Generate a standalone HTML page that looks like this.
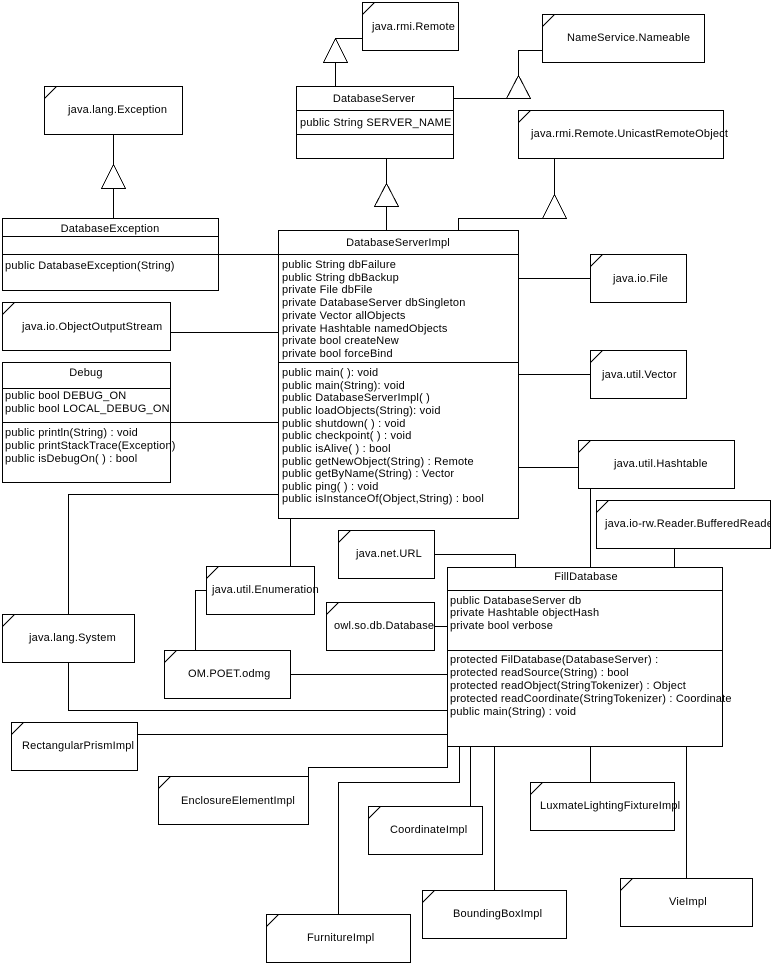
<!DOCTYPE html>
<html><head><meta charset="utf-8"><style>
html,body{margin:0;padding:0;background:#fff;}
svg{display:block;}
text{font-family:"Liberation Sans",Arial,sans-serif;font-size:11px;fill:#000;letter-spacing:0.2px;}
</style></head><body>
<svg width="772" height="964" viewBox="0 0 772 964" xmlns="http://www.w3.org/2000/svg">
<g fill="none" stroke="#000" stroke-width="1" shape-rendering="crispEdges" transform="translate(0.5,0.5)">
<path d="M335,38H362 M335,62V86"/>
<path d="M453,98H507 M518,75V50H542"/>
<path d="M386,158V183 M386,206V230"/>
<path d="M554,158V194 M554,218H458V230"/>
<path d="M113,134V164 M113,188V218"/>
<path d="M218,254H278 M170,332H278 M170,422H278"/>
<path d="M518,278H590 M518,374H590 M518,467H578 M590,488V567 M674,548V567"/>
<path d="M434,554H515V567 M434,626H447"/>
<path d="M290,518V566 M206,590H195V650 M290,674H447"/>
<path d="M68,614V494H278 M68,662V710H447 M137,734H447"/>
<path d="M447,746V767H308V776 M447,746H459V782H338V914 M470,746V806 M494,746V890 M590,746V782 M686,746V878"/>
<path d="M335,38L347,62H323Z" fill="#fff"/>
<path d="M518,75L530,98H506Z" fill="#fff"/>
<path d="M386,183L398,206H374Z" fill="#fff"/>
<path d="M554,194L566,218H542Z" fill="#fff"/>
<path d="M113,164L125,188H101Z" fill="#fff"/>
<rect x="296" y="86" width="157" height="72"/><path d="M296,110H453 M296,134H453"/>
<rect x="278" y="230" width="240" height="288"/><path d="M278,254H518 M278,362H518"/>
<rect x="2" y="218" width="216" height="72"/><path d="M2,236H218 M2,254H218"/>
<rect x="2" y="362" width="168" height="120"/><path d="M2,388H170 M2,422H170"/>
<rect x="447" y="567" width="275" height="179"/><path d="M447,590H722 M447,650H722"/>
<rect x="362" y="2" width="96" height="48"/><path d="M362,14L374,2"/>
<rect x="542" y="14" width="162" height="48"/><path d="M542,26L554,14"/>
<rect x="518" y="110" width="205" height="48"/><path d="M518,122L530,110"/>
<rect x="44" y="86" width="138" height="48"/><path d="M44,98L56,86"/>
<rect x="2" y="302" width="168" height="48"/><path d="M2,314L14,302"/>
<rect x="590" y="254" width="96" height="48"/><path d="M590,266L602,254"/>
<rect x="590" y="350" width="96" height="48"/><path d="M590,362L602,350"/>
<rect x="578" y="440" width="156" height="48"/><path d="M578,452L590,440"/>
<rect x="596" y="500" width="174" height="48"/><path d="M596,512L608,500"/>
<rect x="338" y="530" width="96" height="48"/><path d="M338,542L350,530"/>
<rect x="326" y="602" width="108" height="48"/><path d="M326,614L338,602"/>
<rect x="206" y="566" width="108" height="48"/><path d="M206,578L218,566"/>
<rect x="164" y="650" width="126" height="48"/><path d="M164,662L176,650"/>
<rect x="2" y="614" width="132" height="48"/><path d="M2,626L14,614"/>
<rect x="11" y="722" width="126" height="48"/><path d="M11,734L23,722"/>
<rect x="158" y="776" width="150" height="48"/><path d="M158,788L170,776"/>
<rect x="368" y="806" width="114" height="48"/><path d="M368,818L380,806"/>
<rect x="422" y="890" width="144" height="48"/><path d="M422,902L434,890"/>
<rect x="266" y="914" width="144" height="48"/><path d="M266,926L278,914"/>
<rect x="530" y="782" width="144" height="48"/><path d="M530,794L542,782"/>
<rect x="620" y="878" width="132" height="48"/><path d="M620,890L632,878"/>
</g>
<defs><clipPath id="cb"><rect x="596" y="500" width="174" height="48"/></clipPath></defs>
<g>
<text x="374" y="102" text-anchor="middle">DatabaseServer</text>
<text x="300" y="126">public String SERVER_NAME</text>
<text x="398" y="246" text-anchor="middle">DatabaseServerImpl</text>
<text x="282" y="268">public String  dbFailure</text>
<text x="282" y="281">public String dbBackup</text>
<text x="282" y="293">private  File dbFile</text>
<text x="282" y="306">private DatabaseServer dbSingleton</text>
<text x="282" y="319">private Vector allObjects</text>
<text x="282" y="332">private Hashtable namedObjects</text>
<text x="282" y="344">private bool  createNew</text>
<text x="282" y="357">private bool forceBind</text>
<text x="282" y="376">public main( ): void</text>
<text x="282" y="389">public main(String): void</text>
<text x="282" y="401">public DatabaseServerImpl( )</text>
<text x="282" y="414">public loadObjects(String): void</text>
<text x="282" y="427">public shutdown( ) : void</text>
<text x="282" y="439">public checkpoint( ) : void</text>
<text x="282" y="452">public isAlive( ) : bool</text>
<text x="282" y="465">public getNewObject(String) : Remote</text>
<text x="282" y="477">public getByName(String) : Vector</text>
<text x="282" y="490">public ping( ) : void</text>
<text x="282" y="502">public isInstanceOf(Object,String) : bool</text>
<text x="110" y="232" text-anchor="middle">DatabaseException</text>
<text x="5" y="269">public DatabaseException(String)</text>
<text x="86" y="376" text-anchor="middle">Debug</text>
<text x="5" y="399">public bool DEBUG_ON</text>
<text x="5" y="412">public bool LOCAL_DEBUG_ON</text>
<text x="5" y="436">public println(String) : void</text>
<text x="5" y="449">public printStackTrace(Exception)</text>
<text x="5" y="462">public isDebugOn( ) : bool</text>
<text x="586" y="580" text-anchor="middle">FillDatabase</text>
<text x="450" y="604">public DatabaseServer db</text>
<text x="450" y="616">private Hashtable objectHash</text>
<text x="450" y="629">private bool verbose</text>
<text x="450" y="663">protected FilDatabase(DatabaseServer) :</text>
<text x="450" y="676">protected  readSource(String) : bool</text>
<text x="450" y="689">protected readObject(StringTokenizer) : Object</text>
<text x="450" y="702">protected readCoordinate(StringTokenizer) : Coordinate</text>
<text x="450" y="715">public main(String) : void</text>
<text x="372" y="30">java.rmi.Remote</text>
<text x="567" y="41">NameService.Nameable</text>
<text x="531" y="137">java.rmi.Remote.UnicastRemoteObject</text>
<text x="68" y="113">java.lang.Exception</text>
<text x="22" y="330">java.io.ObjectOutputStream</text>
<text x="613" y="282">java.io.File</text>
<text x="602" y="378">java.util.Vector</text>
<text x="614" y="467">java.util.Hashtable</text>
<text x="605" y="527" clip-path="url(#cb)">java.io-rw.Reader.BufferedReader</text>
<text x="356" y="557">java.net.URL</text>
<text x="334" y="629">owl.so.db.Database</text>
<text x="212" y="593">java.util.Enumeration</text>
<text x="188" y="677">OM.POET.odmg</text>
<text x="29" y="641">java.lang.System</text>
<text x="22" y="749">RectangularPrismImpl</text>
<text x="181" y="804">EnclosureElementImpl</text>
<text x="390" y="833">CoordinateImpl</text>
<text x="453" y="917">BoundingBoxImpl</text>
<text x="307" y="941">FurnitureImpl</text>
<text x="540" y="809">LuxmateLightingFixtureImpl</text>
<text x="669" y="905">VieImpl</text>
</g>
</svg>
</body></html>
